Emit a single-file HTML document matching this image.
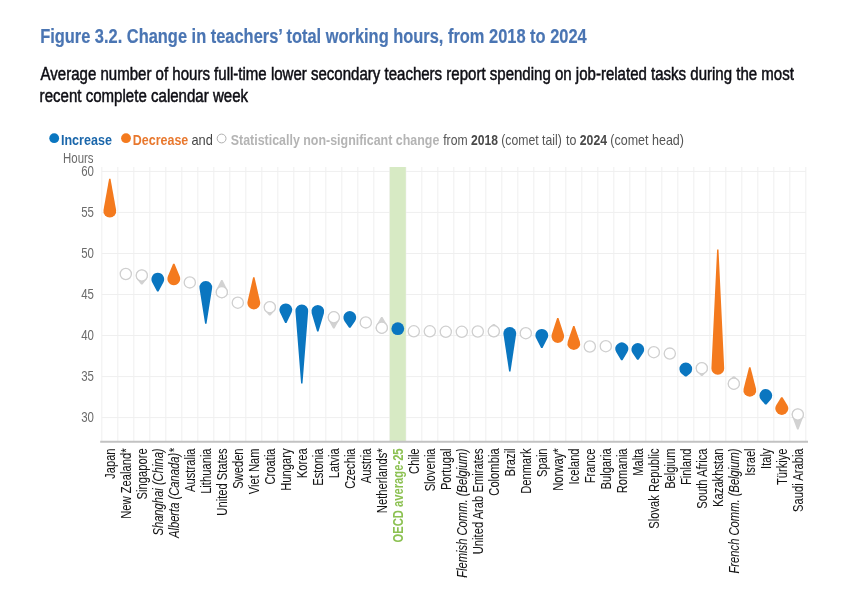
<!DOCTYPE html>
<html><head><meta charset="utf-8"><style>
html,body{margin:0;padding:0;background:#fff;}
svg{display:block;font-family:"Liberation Sans",sans-serif;will-change:transform;}
</style></head><body>
<svg width="855" height="595" viewBox="0 0 855 595">
<rect width="855" height="595" fill="#fff"/>
<text x="40.13" y="42.8" font-size="20.3" font-weight="bold" fill="#4a75b3" textLength="546.59" lengthAdjust="spacingAndGlyphs" stroke="#4a75b3" stroke-width="0.2">Figure 3.2. Change in teachers’ total working hours, from 2018 to 2024</text><text x="40.60" y="79.7" font-size="17.5" fill="#0e0e14" textLength="753.28" lengthAdjust="spacingAndGlyphs" stroke="#0e0e14" stroke-width="0.5">Average number of hours full-time lower secondary teachers report spending on job-related tasks during the most</text><text x="39.62" y="101.6" font-size="17.5" fill="#0e0e14" textLength="208.50" lengthAdjust="spacingAndGlyphs" stroke="#0e0e14" stroke-width="0.5">recent complete calendar week</text>
<circle cx="54.2" cy="138.2" r="4.9" fill="#0a76c0"/><text x="60.98" y="144.7" font-size="15" font-weight="bold" fill="#1b67ab" textLength="50.94" lengthAdjust="spacingAndGlyphs">Increase</text><circle cx="126" cy="138.2" r="4.9" fill="#f47a1e"/><text x="132.79" y="144.7" font-size="15" font-weight="bold" fill="#e8782e" textLength="55.49" lengthAdjust="spacingAndGlyphs">Decrease</text><text x="191.49" y="144.7" font-size="15" fill="#444" textLength="21.39" lengthAdjust="spacingAndGlyphs">and</text><circle cx="221.6" cy="138.5" r="4.4" fill="#fff" stroke="#b0b0b0" stroke-width="1"/><text x="230.73" y="144.7" font-size="15" font-weight="bold" fill="#b4b4b4" textLength="208.62" lengthAdjust="spacingAndGlyphs">Statistically non-significant change</text><text x="443.22" y="144.7" font-size="15" fill="#555" textLength="24.38" lengthAdjust="spacingAndGlyphs">from</text><text x="471.08" y="144.7" font-size="15" font-weight="bold" fill="#4a4a4a" textLength="26.98" lengthAdjust="spacingAndGlyphs">2018</text><text x="501.27" y="144.7" font-size="15" fill="#555" textLength="60.54" lengthAdjust="spacingAndGlyphs">(comet tail)</text><text x="566.01" y="144.7" font-size="15" fill="#555" textLength="10.37" lengthAdjust="spacingAndGlyphs">to</text><text x="579.77" y="144.7" font-size="15" font-weight="bold" fill="#4a4a4a" textLength="27.29" lengthAdjust="spacingAndGlyphs">2024</text><text x="610.35" y="144.7" font-size="15" fill="#555" textLength="73.62" lengthAdjust="spacingAndGlyphs">(comet head)</text>
<g stroke="#efefef" stroke-width="1"><line x1="101.80" y1="167" x2="101.80" y2="441" /><line x1="117.80" y1="167" x2="117.80" y2="441" /><line x1="133.80" y1="167" x2="133.80" y2="441" /><line x1="149.80" y1="167" x2="149.80" y2="441" /><line x1="165.80" y1="167" x2="165.80" y2="441" /><line x1="181.80" y1="167" x2="181.80" y2="441" /><line x1="197.80" y1="167" x2="197.80" y2="441" /><line x1="213.80" y1="167" x2="213.80" y2="441" /><line x1="229.80" y1="167" x2="229.80" y2="441" /><line x1="245.80" y1="167" x2="245.80" y2="441" /><line x1="261.80" y1="167" x2="261.80" y2="441" /><line x1="277.80" y1="167" x2="277.80" y2="441" /><line x1="293.80" y1="167" x2="293.80" y2="441" /><line x1="309.80" y1="167" x2="309.80" y2="441" /><line x1="325.80" y1="167" x2="325.80" y2="441" /><line x1="341.80" y1="167" x2="341.80" y2="441" /><line x1="357.80" y1="167" x2="357.80" y2="441" /><line x1="373.80" y1="167" x2="373.80" y2="441" /><line x1="389.80" y1="167" x2="389.80" y2="441" /><line x1="405.80" y1="167" x2="405.80" y2="441" /><line x1="421.80" y1="167" x2="421.80" y2="441" /><line x1="437.80" y1="167" x2="437.80" y2="441" /><line x1="453.80" y1="167" x2="453.80" y2="441" /><line x1="469.80" y1="167" x2="469.80" y2="441" /><line x1="485.80" y1="167" x2="485.80" y2="441" /><line x1="501.80" y1="167" x2="501.80" y2="441" /><line x1="517.80" y1="167" x2="517.80" y2="441" /><line x1="533.80" y1="167" x2="533.80" y2="441" /><line x1="549.80" y1="167" x2="549.80" y2="441" /><line x1="565.80" y1="167" x2="565.80" y2="441" /><line x1="581.80" y1="167" x2="581.80" y2="441" /><line x1="597.80" y1="167" x2="597.80" y2="441" /><line x1="613.80" y1="167" x2="613.80" y2="441" /><line x1="629.80" y1="167" x2="629.80" y2="441" /><line x1="645.80" y1="167" x2="645.80" y2="441" /><line x1="661.80" y1="167" x2="661.80" y2="441" /><line x1="677.80" y1="167" x2="677.80" y2="441" /><line x1="693.80" y1="167" x2="693.80" y2="441" /><line x1="709.80" y1="167" x2="709.80" y2="441" /><line x1="725.80" y1="167" x2="725.80" y2="441" /><line x1="741.80" y1="167" x2="741.80" y2="441" /><line x1="757.80" y1="167" x2="757.80" y2="441" /><line x1="773.80" y1="167" x2="773.80" y2="441" /><line x1="789.80" y1="167" x2="789.80" y2="441" /><line x1="805.80" y1="167" x2="805.80" y2="441" /><line x1="101.8" y1="171.40" x2="805.8" y2="171.40" /><line x1="101.8" y1="212.43" x2="805.8" y2="212.43" /><line x1="101.8" y1="253.47" x2="805.8" y2="253.47" /><line x1="101.8" y1="294.50" x2="805.8" y2="294.50" /><line x1="101.8" y1="335.53" x2="805.8" y2="335.53" /><line x1="101.8" y1="376.57" x2="805.8" y2="376.57" /><line x1="101.8" y1="417.60" x2="805.8" y2="417.60" /></g>
<rect x="389.80" y="167" width="16.0" height="274.5" fill="#d7eac4"/>
<line x1="100.2" y1="441.8" x2="808" y2="441.8" stroke="#c2c2c2" stroke-width="2"/>
<text x="93.9" y="176.10" font-size="14.1" fill="#6b6b6b" text-anchor="end" textLength="12.76" lengthAdjust="spacingAndGlyphs">60</text><text x="93.9" y="217.13" font-size="14.1" fill="#6b6b6b" text-anchor="end" textLength="12.76" lengthAdjust="spacingAndGlyphs">55</text><text x="93.9" y="258.17" font-size="14.1" fill="#6b6b6b" text-anchor="end" textLength="12.76" lengthAdjust="spacingAndGlyphs">50</text><text x="93.9" y="299.20" font-size="14.1" fill="#6b6b6b" text-anchor="end" textLength="12.76" lengthAdjust="spacingAndGlyphs">45</text><text x="93.9" y="340.23" font-size="14.1" fill="#6b6b6b" text-anchor="end" textLength="12.76" lengthAdjust="spacingAndGlyphs">40</text><text x="93.9" y="381.27" font-size="14.1" fill="#6b6b6b" text-anchor="end" textLength="12.76" lengthAdjust="spacingAndGlyphs">35</text><text x="93.9" y="422.30" font-size="14.1" fill="#6b6b6b" text-anchor="end" textLength="12.76" lengthAdjust="spacingAndGlyphs">30</text><text x="63.09" y="162.8" font-size="13.8" fill="#6b6b6b" textLength="30.49" lengthAdjust="spacingAndGlyphs">Hours</text>
<path d="M109.10,178.80 L110.50,178.80 L116.10,209.97 A6.4,6.4 0 1 1 103.50,209.97 Z" fill="#f47a1e"/><circle cx="125.80" cy="274.00" r="5.6" fill="#fff" stroke="#cfcfcf" stroke-width="1.3"/><path d="M141.10,284.50 L142.50,284.50 L146.58,279.13 A6.0,6.0 0 1 0 137.02,279.13 Z" fill="#d2d2d2"/><circle cx="141.80" cy="275.50" r="5.6" fill="#fff" stroke="#cfcfcf" stroke-width="1.3"/><path d="M157.10,291.60 L158.50,291.60 L163.46,282.18 A6.4,6.4 0 1 0 152.14,282.18 Z" fill="#0a76c0"/><path d="M173.10,263.80 L174.50,263.80 L179.71,276.35 A6.4,6.4 0 1 1 167.89,276.35 Z" fill="#f47a1e"/><circle cx="189.80" cy="282.40" r="5.6" fill="#fff" stroke="#cfcfcf" stroke-width="1.3"/><path d="M205.10,323.80 L206.50,323.80 L212.12,288.30 A6.4,6.4 0 1 0 199.48,288.30 Z" fill="#0a76c0"/><path d="M221.10,280.00 L222.50,280.00 L227.19,289.56 A6.0,6.0 0 1 1 216.41,289.56 Z" fill="#d2d2d2"/><circle cx="221.80" cy="292.20" r="5.6" fill="#fff" stroke="#cfcfcf" stroke-width="1.3"/><circle cx="237.80" cy="302.70" r="5.6" fill="#fff" stroke="#cfcfcf" stroke-width="1.3"/><path d="M253.10,277.30 L254.50,277.30 L260.04,301.58 A6.4,6.4 0 1 1 247.56,301.58 Z" fill="#f47a1e"/><path d="M269.10,315.40 L270.50,315.40 L274.26,311.21 A6.0,6.0 0 1 0 265.34,311.21 Z" fill="#d2d2d2"/><circle cx="269.80" cy="307.20" r="5.6" fill="#fff" stroke="#cfcfcf" stroke-width="1.3"/><path d="M285.10,322.90 L286.50,322.90 L291.55,312.62 A6.4,6.4 0 1 0 280.05,312.62 Z" fill="#0a76c0"/><path d="M301.10,383.60 L302.50,383.60 L308.18,311.30 A6.4,6.4 0 1 0 295.42,311.30 Z" fill="#0a76c0"/><path d="M317.10,331.40 L318.50,331.40 L323.93,313.23 A6.4,6.4 0 1 0 311.67,313.23 Z" fill="#0a76c0"/><path d="M333.10,328.50 L334.50,328.50 L339.06,320.19 A6.0,6.0 0 1 0 328.54,320.19 Z" fill="#d2d2d2"/><circle cx="333.80" cy="317.30" r="5.6" fill="#fff" stroke="#cfcfcf" stroke-width="1.3"/><path d="M349.10,327.70 L350.50,327.70 L355.05,321.16 A6.4,6.4 0 1 0 344.55,321.16 Z" fill="#0a76c0"/><circle cx="365.80" cy="322.40" r="5.6" fill="#fff" stroke="#cfcfcf" stroke-width="1.3"/><path d="M381.10,317.00 L382.50,317.00 L386.98,324.67 A6.0,6.0 0 1 1 376.62,324.67 Z" fill="#d2d2d2"/><circle cx="381.80" cy="327.70" r="5.6" fill="#fff" stroke="#cfcfcf" stroke-width="1.3"/><circle cx="397.80" cy="328.70" r="6.4" fill="#0a76c0"/><circle cx="413.80" cy="331.30" r="5.6" fill="#fff" stroke="#cfcfcf" stroke-width="1.3"/><circle cx="429.80" cy="331.30" r="5.6" fill="#fff" stroke="#cfcfcf" stroke-width="1.3"/><circle cx="445.80" cy="331.80" r="5.6" fill="#fff" stroke="#cfcfcf" stroke-width="1.3"/><circle cx="461.80" cy="331.80" r="5.6" fill="#fff" stroke="#cfcfcf" stroke-width="1.3"/><circle cx="477.80" cy="331.50" r="5.6" fill="#fff" stroke="#cfcfcf" stroke-width="1.3"/><path d="M493.10,324.00 L494.50,324.00 L497.70,326.74 A6.0,6.0 0 1 1 489.90,326.74 Z" fill="#d2d2d2"/><circle cx="493.80" cy="331.30" r="5.6" fill="#fff" stroke="#cfcfcf" stroke-width="1.3"/><path d="M509.10,371.50 L510.50,371.50 L516.13,334.26 A6.4,6.4 0 1 0 503.47,334.26 Z" fill="#0a76c0"/><circle cx="525.80" cy="333.20" r="5.6" fill="#fff" stroke="#cfcfcf" stroke-width="1.3"/><path d="M541.10,347.90 L542.50,347.90 L547.47,338.36 A6.4,6.4 0 1 0 536.13,338.36 Z" fill="#0a76c0"/><path d="M557.10,318.10 L558.50,318.10 L563.88,334.51 A6.4,6.4 0 1 1 551.72,334.51 Z" fill="#f47a1e"/><path d="M573.10,326.10 L574.50,326.10 L579.84,341.39 A6.4,6.4 0 1 1 567.76,341.39 Z" fill="#f47a1e"/><circle cx="589.80" cy="346.50" r="5.6" fill="#fff" stroke="#cfcfcf" stroke-width="1.3"/><circle cx="605.80" cy="346.20" r="5.6" fill="#fff" stroke="#cfcfcf" stroke-width="1.3"/><path d="M621.10,360.20 L622.50,360.20 L627.29,352.18 A6.4,6.4 0 1 0 616.31,352.18 Z" fill="#0a76c0"/><path d="M637.10,359.80 L638.50,359.80 L643.08,353.12 A6.4,6.4 0 1 0 632.52,353.12 Z" fill="#0a76c0"/><circle cx="653.80" cy="352.20" r="5.6" fill="#fff" stroke="#cfcfcf" stroke-width="1.3"/><circle cx="669.80" cy="353.60" r="5.6" fill="#fff" stroke="#cfcfcf" stroke-width="1.3"/><path d="M685.10,376.60 L686.50,376.60 L689.94,373.68 A6.4,6.4 0 1 0 681.66,373.68 Z" fill="#0a76c0"/><path d="M701.10,376.00 L702.50,376.00 L706.05,372.43 A6.0,6.0 0 1 0 697.55,372.43 Z" fill="#d2d2d2"/><circle cx="701.80" cy="368.20" r="5.6" fill="#fff" stroke="#cfcfcf" stroke-width="1.3"/><path d="M717.10,249.60 L718.50,249.60 L724.19,368.09 A6.4,6.4 0 1 1 711.41,368.09 Z" fill="#f47a1e"/><path d="M733.10,376.30 L734.50,376.30 L737.78,379.21 A6.0,6.0 0 1 1 729.82,379.21 Z" fill="#d2d2d2"/><circle cx="733.80" cy="383.70" r="5.6" fill="#fff" stroke="#cfcfcf" stroke-width="1.3"/><path d="M749.10,367.30 L750.50,367.30 L756.00,388.71 A6.4,6.4 0 1 1 743.60,388.71 Z" fill="#f47a1e"/><path d="M765.10,404.40 L766.50,404.40 L770.61,399.72 A6.4,6.4 0 1 0 760.99,399.72 Z" fill="#0a76c0"/><path d="M781.10,397.20 L782.50,397.20 L787.26,404.95 A6.4,6.4 0 1 1 776.34,404.95 Z" fill="#f47a1e"/><path d="M797.10,429.60 L798.50,429.60 L803.41,416.62 A6.0,6.0 0 1 0 792.19,416.62 Z" fill="#d2d2d2"/><circle cx="797.80" cy="414.50" r="5.6" fill="#fff" stroke="#cfcfcf" stroke-width="1.3"/>
<g font-size="13.8" fill="#141414" stroke="#141414" stroke-width="0.05"><text transform="translate(115.10,448.4) rotate(-90)" text-anchor="end" textLength="30.52" lengthAdjust="spacingAndGlyphs">Japan</text><text transform="translate(131.10,448.4) rotate(-90)" text-anchor="end" textLength="70.35" lengthAdjust="spacingAndGlyphs">New Zealand*</text><text transform="translate(147.10,448.4) rotate(-90)" text-anchor="end" textLength="51.06" lengthAdjust="spacingAndGlyphs">Singapore</text><text transform="translate(163.10,448.4) rotate(-90)" text-anchor="end" textLength="87.17" lengthAdjust="spacingAndGlyphs" font-style="italic">Shanghai (China)</text><text transform="translate(179.10,448.4) rotate(-90)" text-anchor="end" textLength="89.65" lengthAdjust="spacingAndGlyphs" font-style="italic">Alberta (Canada)*</text><text transform="translate(195.10,448.4) rotate(-90)" text-anchor="end" textLength="43.58" lengthAdjust="spacingAndGlyphs">Australia</text><text transform="translate(211.10,448.4) rotate(-90)" text-anchor="end" textLength="45.46" lengthAdjust="spacingAndGlyphs">Lithuania</text><text transform="translate(227.10,448.4) rotate(-90)" text-anchor="end" textLength="67.24" lengthAdjust="spacingAndGlyphs">United States</text><text transform="translate(243.10,448.4) rotate(-90)" text-anchor="end" textLength="40.47" lengthAdjust="spacingAndGlyphs">Sweden</text><text transform="translate(259.10,448.4) rotate(-90)" text-anchor="end" textLength="45.86" lengthAdjust="spacingAndGlyphs">Viet Nam</text><text transform="translate(275.10,448.4) rotate(-90)" text-anchor="end" textLength="36.10" lengthAdjust="spacingAndGlyphs">Croatia</text><text transform="translate(291.10,448.4) rotate(-90)" text-anchor="end" textLength="42.33" lengthAdjust="spacingAndGlyphs">Hungary</text><text transform="translate(307.10,448.4) rotate(-90)" text-anchor="end" textLength="29.89" lengthAdjust="spacingAndGlyphs">Korea</text><text transform="translate(323.10,448.4) rotate(-90)" text-anchor="end" textLength="37.36" lengthAdjust="spacingAndGlyphs">Estonia</text><text transform="translate(339.10,448.4) rotate(-90)" text-anchor="end" textLength="29.89" lengthAdjust="spacingAndGlyphs">Latvia</text><text transform="translate(355.10,448.4) rotate(-90)" text-anchor="end" textLength="40.46" lengthAdjust="spacingAndGlyphs">Czechia</text><text transform="translate(371.10,448.4) rotate(-90)" text-anchor="end" textLength="34.86" lengthAdjust="spacingAndGlyphs">Austria</text><text transform="translate(387.10,448.4) rotate(-90)" text-anchor="end" textLength="64.75" lengthAdjust="spacingAndGlyphs">Netherlands*</text><text transform="translate(403.10,448.4) rotate(-90)" text-anchor="end" textLength="94.00" lengthAdjust="spacingAndGlyphs" font-weight="bold" fill="#8cc152" stroke="none">OECD average-25</text><text transform="translate(419.10,448.4) rotate(-90)" text-anchor="end" textLength="25.52" lengthAdjust="spacingAndGlyphs">Chile</text><text transform="translate(435.10,448.4) rotate(-90)" text-anchor="end" textLength="42.96" lengthAdjust="spacingAndGlyphs">Slovenia</text><text transform="translate(451.10,448.4) rotate(-90)" text-anchor="end" textLength="41.72" lengthAdjust="spacingAndGlyphs">Portugal</text><text transform="translate(467.10,448.4) rotate(-90)" text-anchor="end" textLength="129.44" lengthAdjust="spacingAndGlyphs" font-style="italic">Flemish Comm. (Belgium)</text><text transform="translate(483.10,448.4) rotate(-90)" text-anchor="end" textLength="105.83" lengthAdjust="spacingAndGlyphs">United Arab Emirates</text><text transform="translate(499.10,448.4) rotate(-90)" text-anchor="end" textLength="47.31" lengthAdjust="spacingAndGlyphs">Colombia</text><text transform="translate(515.10,448.4) rotate(-90)" text-anchor="end" textLength="28.01" lengthAdjust="spacingAndGlyphs">Brazil</text><text transform="translate(531.10,448.4) rotate(-90)" text-anchor="end" textLength="45.43" lengthAdjust="spacingAndGlyphs">Denmark</text><text transform="translate(547.10,448.4) rotate(-90)" text-anchor="end" textLength="28.65" lengthAdjust="spacingAndGlyphs">Spain</text><text transform="translate(563.10,448.4) rotate(-90)" text-anchor="end" textLength="42.32" lengthAdjust="spacingAndGlyphs">Norway*</text><text transform="translate(579.10,448.4) rotate(-90)" text-anchor="end" textLength="36.12" lengthAdjust="spacingAndGlyphs">Iceland</text><text transform="translate(595.10,448.4) rotate(-90)" text-anchor="end" textLength="34.86" lengthAdjust="spacingAndGlyphs">France</text><text transform="translate(611.10,448.4) rotate(-90)" text-anchor="end" textLength="41.09" lengthAdjust="spacingAndGlyphs">Bulgaria</text><text transform="translate(627.10,448.4) rotate(-90)" text-anchor="end" textLength="44.82" lengthAdjust="spacingAndGlyphs">Romania</text><text transform="translate(643.10,448.4) rotate(-90)" text-anchor="end" textLength="27.39" lengthAdjust="spacingAndGlyphs">Malta</text><text transform="translate(659.10,448.4) rotate(-90)" text-anchor="end" textLength="80.31" lengthAdjust="spacingAndGlyphs">Slovak Republic</text><text transform="translate(675.10,448.4) rotate(-90)" text-anchor="end" textLength="40.46" lengthAdjust="spacingAndGlyphs">Belgium</text><text transform="translate(691.10,448.4) rotate(-90)" text-anchor="end" textLength="36.73" lengthAdjust="spacingAndGlyphs">Finland</text><text transform="translate(707.10,448.4) rotate(-90)" text-anchor="end" textLength="60.39" lengthAdjust="spacingAndGlyphs">South Africa</text><text transform="translate(723.10,448.4) rotate(-90)" text-anchor="end" textLength="58.53" lengthAdjust="spacingAndGlyphs">Kazakhstan</text><text transform="translate(739.10,448.4) rotate(-90)" text-anchor="end" textLength="125.09" lengthAdjust="spacingAndGlyphs" font-style="italic">French Comm. (Belgium)</text><text transform="translate(755.10,448.4) rotate(-90)" text-anchor="end" textLength="27.39" lengthAdjust="spacingAndGlyphs">Israel</text><text transform="translate(771.10,448.4) rotate(-90)" text-anchor="end" textLength="20.54" lengthAdjust="spacingAndGlyphs">Italy</text><text transform="translate(787.10,448.4) rotate(-90)" text-anchor="end" textLength="36.72" lengthAdjust="spacingAndGlyphs">Türkiye</text><text transform="translate(803.10,448.4) rotate(-90)" text-anchor="end" textLength="63.51" lengthAdjust="spacingAndGlyphs">Saudi Arabia</text></g>
</svg>
</body></html>
